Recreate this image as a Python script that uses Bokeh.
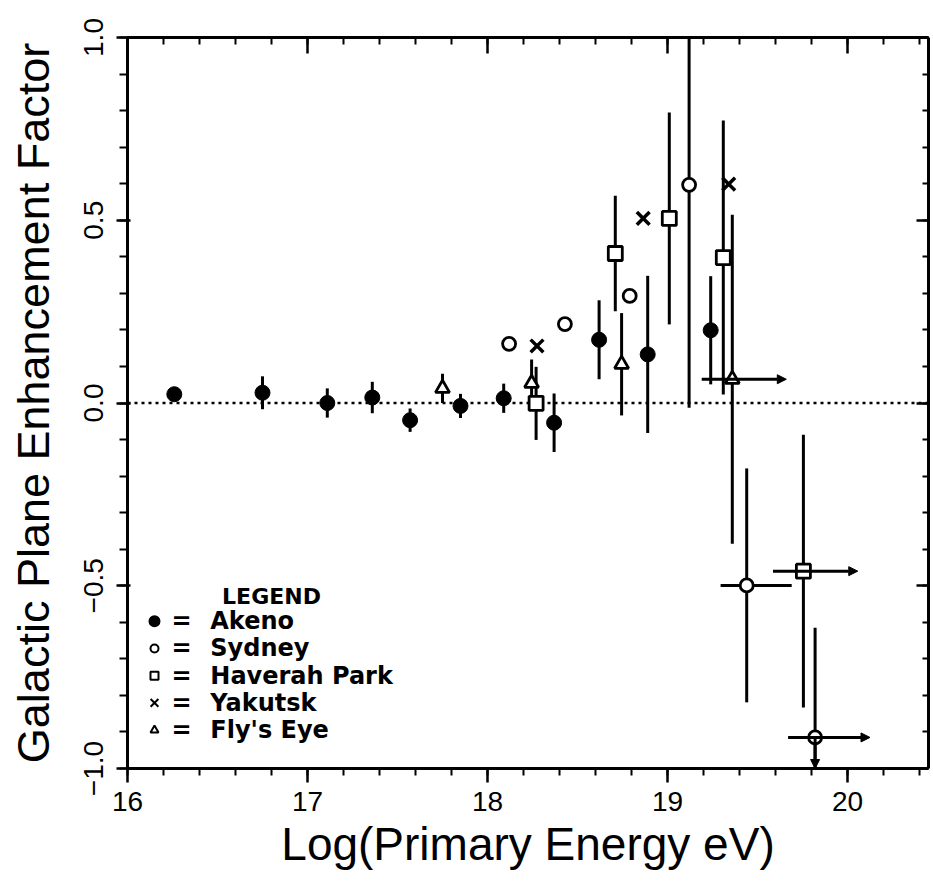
from bokeh.plotting import figure
from bokeh.models import (LinearAxis, SingleIntervalTicker, Span, Arrow, NormalHead,
                          CustomJSTickFormatter, CustomLabelingPolicy, Range1d)
from bokeh.core.properties import value
from bokeh.embed import file_html
from bokeh.resources import INLINE

# ---------------- data ----------------
akeno_x = [16.26, 16.75, 17.11, 17.36, 17.57, 17.85, 18.09, 18.37, 18.62, 18.89, 19.24]
akeno_y = [0.024, 0.028, 0.000, 0.015, -0.047, -0.008, 0.013, -0.054, 0.173, 0.133, 0.199]
akeno_err = [0.015, 0.045, 0.040, 0.043, 0.032, 0.033, 0.040, 0.080, 0.108, 0.215, 0.148]

sydney_x = [18.12, 18.43, 18.79, 19.12, 19.44, 19.82]
sydney_y = [0.162, 0.216, 0.293, 0.597, -0.499, -0.915]
sydney_err = [0.0, 0.0, 0.0, 0.61, 0.32, 0.30]

haverah_x = [18.27, 18.71, 19.01, 19.31, 19.755]
haverah_y = [-0.001, 0.409, 0.505, 0.398, -0.460]
haverah_err = [0.10, 0.158, 0.29, 0.375, 0.373]

yakutsk_x = [18.275, 18.865, 19.34]
yakutsk_y = [0.156, 0.505, 0.599]

flys_x = [17.75, 18.245, 18.745, 19.36]
flys_y = [0.040, 0.054, 0.106, 0.065]
flys_err = [0.04, 0.065, 0.14, 0.45]

# horizontal (energy) ranges; arrow = lower limit in energy
hbar_x0 = [19.19, 19.295, 19.586, 19.67]
hbar_x1 = [19.66, 19.69, 20.057, 20.125]
hbar_y = [0.065, -0.499, -0.460, -0.915]
hbar_arrow = [True, False, True, True]

# downward limit arrow (Sydney, highest energy)
down_x = [19.82]
down_y0 = [-0.915]
down_y1 = [-1.0]

legend_names = ["Akeno", "Sydney", "Haverah Park", "Yakutsk", "Fly's Eye"]
legend_markers = ["circle", "circle", "square", "x", "triangle"]
legend_fills = ["black", "white", "white", None, "white"]

x_ticks_interval = 1
y_ticks_interval = 0.5

# ---------------- figure ----------------
p = figure(width=933, height=884, x_range=Range1d(16, 20.45), y_range=Range1d(-1, 1),
           output_backend="svg", toolbar_location=None,
           min_border_left=127, min_border_right=2, min_border_top=37, min_border_bottom=116,
           x_axis_label="Log(Primary Energy eV)",
           y_axis_label="Galactic Plane Enhancement Factor")
p.outline_line_color = None
p.xgrid.visible = False
p.ygrid.visible = False
p.background_fill_color = "white"
p.border_fill_color = "white"

xt = SingleIntervalTicker(interval=x_ticks_interval, num_minor_ticks=5)
yt = SingleIntervalTicker(interval=y_ticks_interval, num_minor_ticks=5)

tick_font = "Liberation Sans"
label_font = "Liberation Sans"

xa = p.xaxis[0]
xa.ticker = xt
xa.axis_line_width = 3
xa.axis_line_color = "black"
xa.major_tick_line_color = "black"
xa.minor_tick_line_color = "black"
xa.major_tick_line_width = 2.5
xa.minor_tick_line_width = 2
xa.major_tick_out = 14
xa.major_tick_in = 0
xa.minor_tick_out = 7
xa.minor_tick_in = 0
xa.major_label_text_font = tick_font
xa.major_label_text_font_size = "28px"
xa.major_label_text_color = "black"
xa.major_label_standoff = 9
xa.axis_label_text_font = label_font
xa.axis_label_text_font_size = "46px"
xa.axis_label_text_font_style = "normal"
xa.axis_label_text_color = "black"
xa.axis_label_standoff = 4

ya = p.yaxis[0]
ya.ticker = yt
ya.axis_line_width = 3
ya.axis_line_color = "black"
ya.major_tick_line_color = "black"
ya.minor_tick_line_color = "black"
ya.major_tick_line_width = 2.5
ya.minor_tick_line_width = 2
ya.major_tick_out = 11
ya.major_tick_in = 3
ya.minor_tick_out = 8
ya.minor_tick_in = 0
ya.major_label_orientation = "vertical"
ya.formatter = CustomJSTickFormatter(code="return tick.toFixed(1).replace('-', '\u2212');")
ya.major_label_text_font = tick_font
ya.major_label_text_font_size = "28px"
ya.major_label_text_color = "black"
ya.major_label_standoff = 14
ya.axis_label_text_font = label_font
ya.axis_label_text_font_size = "45px"
ya.axis_label_text_font_style = "normal"
ya.axis_label_text_color = "black"
ya.axis_label_standoff = 22

hide_labels = CustomLabelingPolicy(code="for (const i of indices) indices.unset(i)")

top = LinearAxis(ticker=xt, axis_line_width=3, major_tick_in=16, major_tick_out=0,
                 minor_tick_in=7, minor_tick_out=0, major_tick_line_width=2.5,
                 minor_tick_line_width=2, major_label_text_font_size="1px",
                 major_label_standoff=0, major_label_policy=hide_labels)
right = LinearAxis(ticker=yt, axis_line_width=3, major_tick_in=12, major_tick_out=0,
                   minor_tick_in=6, minor_tick_out=0, major_tick_line_width=2.5,
                   minor_tick_line_width=2, major_label_text_font_size="1px",
                   major_label_standoff=0, major_label_policy=hide_labels)
p.add_layout(top, "above")
p.add_layout(right, "right")

# zero line
p.add_layout(Span(location=0, dimension="width", line_color="black", line_width=2.5,
                  line_dash="3 4", level="underlay"))

EW = 3  # error bar width

def vbars(xs, ys, errs):
    xs2, y0, y1 = [], [], []
    for x, y, e in zip(xs, ys, errs):
        if e > 0:
            xs2.append(x); y0.append(y - e); y1.append(y + e)
    p.segment(x0=xs2, y0=y0, x1=xs2, y1=y1, line_color="black", line_width=EW)

vbars(akeno_x, akeno_y, akeno_err)
vbars(sydney_x, sydney_y, sydney_err)
vbars(haverah_x, haverah_y, haverah_err)
vbars(flys_x, flys_y, flys_err)

# horizontal bars / arrows
for x0, x1, y, arr in zip(hbar_x0, hbar_x1, hbar_y, hbar_arrow):
    if arr:
        p.add_layout(Arrow(x_start=x0, y_start=y, x_end=x1, y_end=y, line_width=EW,
                           end=NormalHead(size=9, fill_color="black", line_color="black",
                                          line_width=1)))
    else:
        p.segment(x0=[x0], y0=[y], x1=[x1], y1=[y], line_color="black", line_width=EW)

for x, y0, y1 in zip(down_x, down_y0, down_y1):
    p.add_layout(Arrow(x_start=x, y_start=y0, x_end=x, y_end=y1, line_width=EW,
                       end=NormalHead(size=9, fill_color="black", line_color="black",
                                      line_width=1)))

# markers
p.scatter(akeno_x, akeno_y, marker="circle", size=15, fill_color="black", line_color="black")
p.scatter(sydney_x, sydney_y, marker="circle", size=13, fill_color="white",
          line_color="black", line_width=2.8)
p.scatter(haverah_x, haverah_y, marker="square", size=14, fill_color="white",
          line_color="black", line_width=2.8)
p.scatter(yakutsk_x, yakutsk_y, marker="x", size=18, line_color="black", line_width=3.5)
p.scatter(flys_x, flys_y, marker="triangle", size=14, fill_color="white",
          line_color="black", line_width=2.8)

# legend (drawn inside the plot like the original)
leg_sym_x = 16.15
leg_eq_x = 16.245
leg_txt_x = 16.46
leg_title_x = 16.80
leg_title_y = -0.529
leg_row0 = -0.597
leg_dy = -0.0745
rows = [leg_row0 + i * leg_dy for i in range(len(legend_names))]

for nm, mk, fc, yy in zip(legend_names, legend_markers, legend_fills, rows):
    if mk == "x":
        p.scatter([leg_sym_x], [yy], marker=mk, size=11, line_color="black", line_width=2)
    else:
        p.scatter([leg_sym_x], [yy], marker=mk, size=10 if fc == "black" else 8,
                  fill_color=fc, line_color="black", line_width=2)

p.text(x=[leg_eq_x] * len(rows), y=rows, text=["="] * len(rows),
       text_font=value("DejaVu Sans"), text_font_style="bold", text_font_size="24px",
       text_baseline="middle", text_align="left", text_color="black")
p.text(x=[leg_txt_x] * len(rows), y=rows, text=legend_names,
       text_font=value("DejaVu Sans"), text_font_style="bold", text_font_size="24px",
       text_baseline="middle", text_align="left", text_color="black")
p.text(x=[leg_title_x], y=[leg_title_y], text=["LEGEND"],
       text_font=value("DejaVu Sans"), text_font_style="bold", text_font_size="22px",
       text_baseline="middle", text_align="center", text_color="black")

open("out.html", "w").write(file_html(p, INLINE))
